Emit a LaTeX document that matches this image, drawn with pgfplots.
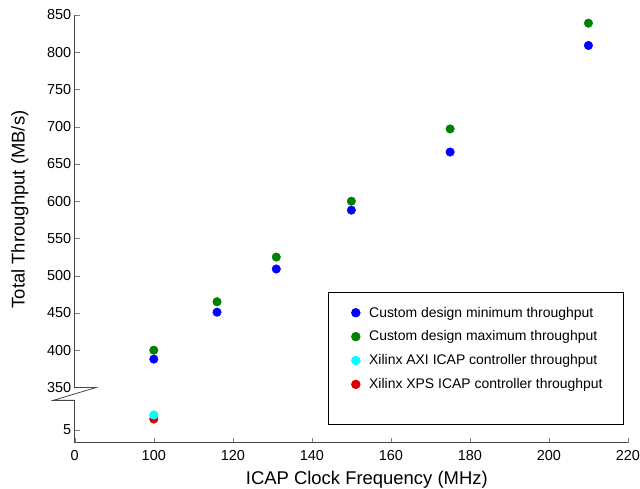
\documentclass[border=0pt]{standalone}
\usepackage{fontspec}
\setmainfont{Liberation Sans}
\usepackage{pgfplots}
\pgfplotsset{compat=1.18}

\definecolor{axgray}{RGB}{70,70,70}
\definecolor{ptblue}{RGB}{0,0,255}
\definecolor{ptgreen}{RGB}{0,128,0}
\definecolor{ptcyan}{RGB}{0,255,255}
\definecolor{ptred}{RGB}{220,0,0}

\pgfplotsset{
  dot/.style={only marks, mark=*, mark size=4.3pt, draw=#1, fill=#1,
    mark options={draw=#1, fill=#1}},
}

\begin{document}
\begin{tikzpicture}
\begin{axis}[
  scale only axis,
  width=555pt, height=429pt,
  xmin=80, xmax=220,
  ymin=276, ymax=850,
  clip=false,
  axis x line=bottom,
  axis y line=left,
  axis line style={-, axgray, line width=0.8pt},
  tick align=inside,
  major tick length=5pt,
  xtick={80,100,120,140,160,180,200,220},
  xticklabels={0,100,120,140,160,180,200,220},
  % below the break the y axis is shifted: plotted value = real value + 288
  ytick={293,350,400,450,500,550,600,650,700,750,800,850},
  yticklabels={5,350,400,450,500,550,600,650,700,750,800,850},
  ticklabel style={font=\fontsize{14.5}{17}\selectfont},
  xticklabel style={inner sep=0pt, yshift=-8pt},
  xlabel={ICAP Clock Frequency (MHz)},
  ylabel={Total Throughput (MB/s)},
  every axis x label/.style={at={(rel axis cs:0.528,0)}, yshift=-37pt, anchor=center,
    inner sep=0pt, font=\fontsize{18.5}{22}\selectfont},
  every axis y label/.style={at={(rel axis cs:0,0.545)}, xshift=-55pt, rotate=90, anchor=center,
    inner sep=0pt, font=\fontsize{18.5}{22}\selectfont},
  legend style={at={(0.458,0.353)}, anchor=north west, draw=black, line width=0.8pt,
    font=\fontsize{14}{16}\selectfont, row sep=8.3pt, inner ysep=13pt, inner xsep=6pt},
  legend cell align=left,
  legend image code/.code={
    \path (-21pt,0pt) (11pt,0pt);
    \draw[#1] plot coordinates {(0pt,0pt)};
  },
]
\addplot[dot=ptblue] coordinates {
  (100,388) (116,451) (131,509) (150,588) (175,666) (210,809)};
\addlegendentry{Custom design minimum throughput}
\addplot[dot=ptgreen] coordinates {
  (100,400) (116,465) (131,525) (150,600) (175,697) (210,839)};
\addlegendentry{Custom design maximum throughput}
% Xilinx XPS: 19.5 MB/s -> 307.5 on the shifted lower part
\addplot[dot=ptred, forget plot] coordinates {(100,307.5)};
% Xilinx AXI: 25 MB/s -> 313 on the shifted lower part
\addplot[dot=ptcyan] coordinates {(100,313)};
\addlegendentry{Xilinx AXI ICAP controller throughput}
\addlegendimage{dot=ptred}
\addlegendentry{Xilinx XPS ICAP controller throughput}
\addlegendimage{empty legend}
\addlegendentry{\rule{0pt}{6pt}\rule{247pt}{0pt}}

% axis break
\draw[white, line width=3pt] (axis cs:80,349.5) -- (axis cs:80,333);
\draw[axgray, line width=0.8pt] (axis cs:80,350) -- ([xshift=21.7pt]axis cs:80,350)
  -- ([xshift=-21.7pt]axis cs:80,332.6) -- (axis cs:80,332.6);

% picture frame matching the reference size
\path (rel axis cs:0,0) ++(-75pt,-46pt) rectangle ++(640pt,490pt);
\end{axis}
\end{tikzpicture}
\end{document}
